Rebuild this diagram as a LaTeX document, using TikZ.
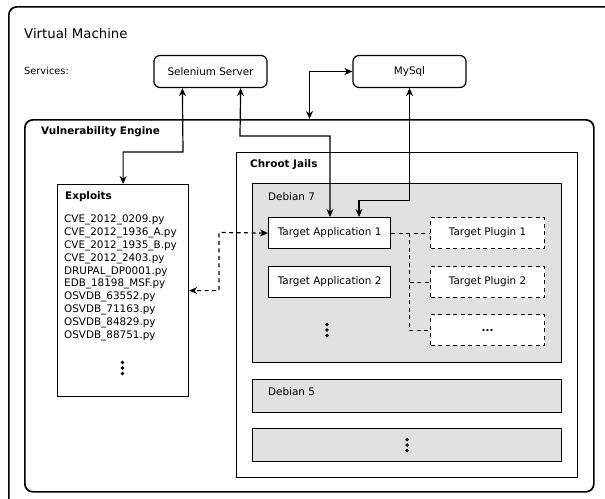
\documentclass[tikz,border=0pt]{standalone}
\usepackage{fontspec}
\setmainfont{DejaVu Sans}
\usetikzlibrary{arrows.meta,positioning}
\definecolor{jailgray}{RGB}{224,224,224}
\newcommand{\vdotsat}[1]{%
  \foreach \k in {-5.5,0,5.5} \fill ([yshift=\k pt]#1) circle (1.9pt);}

\begin{document}
\begin{tikzpicture}[
  x=1pt, y=-1pt,
  font=\fontsize{10.4}{12.9}\selectfont,
  frame/.style={draw, line width=1.7pt, rounded corners=8pt, anchor=north west, inner sep=0pt},
  svc/.style={draw, line width=1.2pt, rounded corners=6pt,
    minimum width=113pt, minimum height=32pt, inner sep=0pt},
  box/.style={draw, line width=1.2pt, anchor=north west, inner sep=0pt},
  jail/.style={box, fill=jailgray, minimum width=309pt},
  app/.style={box, fill=white, minimum width=122pt, minimum height=31pt},
  plugin/.style={app, dash pattern=on 4pt off 3.5pt, minimum width=114pt},
  lbl/.style={anchor=west, inner sep=0pt},
  head/.style={lbl, font=\fontsize{10.4}{12.9}\selectfont\bfseries},
  arr/.style={{Stealth[length=8pt,width=7pt]}-{Stealth[length=8pt,width=7pt]}, line width=1.2pt},
  darr/.style={arr, dash pattern=on 4pt off 3.5pt},
  dline/.style={line width=1.2pt, dash pattern=on 4pt off 3.5pt}
]
\useasboundingbox (0,0) rectangle (605,498);

% virtual machine and services
\node[frame, minimum width=640pt, minimum height=530pt] (vm) at (8,6) {};
\node[lbl, font=\fontsize{13.3}{16}\selectfont] (vmlbl) at (24,34) {Virtual Machine};
\node[lbl, font=\fontsize{9.8}{12}\selectfont] (services) at (24,71) {Services:};
\node[svc] (selenium) at (210.5,71.5) {Selenium Server};
\node[svc] (mysql) at (409.5,71.5) {MySql};

% vulnerability engine
\node[frame, minimum width=569pt, minimum height=372pt] (engine) at (24,119) {};
\node[head] (enginelbl) at (41,132) {Vulnerability Engine};

\node[box, minimum width=131pt, minimum height=212pt] (exploits) at (57,184) {};
\node[head] (exploitslbl) at (65,197) {Exploits};
\node[anchor=north west, inner sep=0pt, align=left] (exlist) at (64,214.5)
  {CVE\_2012\_0209.py\\ CVE\_2012\_1936\_A.py\\ CVE\_2012\_1935\_B.py\\
   CVE\_2012\_2403.py\\ DRUPAL\_DP0001.py\\ EDB\_18198\_MSF.py\\
   OSVDB\_63552.py\\ OSVDB\_71163.py\\ OSVDB\_84829.py\\ OSVDB\_88751.py};
\coordinate (exdots) at (122.5,368);

% chroot jails
\node[box, minimum width=341pt, minimum height=325pt] (chroot) at (236,152) {};
\node[head] (chrootlbl) at (250,165) {Chroot Jails};

\node[jail, minimum height=179pt] (deb7) at (252,183) {};
\node[lbl] (deb7lbl) at (268,197) {Debian 7};
\node[app] (app1) at (268,217) {Target Application 1};
\node[app] (app2) at (268,266) {Target Application 2};
\coordinate (appdots) at (327,330);
\node[plugin] (plug1) at (430,217) {Target Plugin 1};
\node[plugin] (plug2) at (430,266) {Target Plugin 2};
\node[plugin] (plug3) at (430,314) {\textbf{...}};

\node[jail, minimum height=33pt] (deb5) at (252,379) {};
\node[lbl] (deb5lbl) at (268,392) {Debian 5};
\node[jail, minimum height=33pt] (debmore) at (252,428) {};

\vdotsat{exdots}
\vdotsat{appdots}
\vdotsat{debmore.center}

% connections
\coordinate (b1) at (183,152);
\coordinate (b2) at (240,136);
\coordinate (b3) at (409.5,200.5);
\coordinate (b4) at (309.5,71.5);
\coordinate (b5) at (219,232.5);
\coordinate (j1) at (409.5,232.5);

\draw[arr] (exploits.north) |- (b1) -- ([xshift=29pt]selenium.south west);
\draw[arr] ([xshift=-27pt]selenium.south east) -- (b2) -| ([xshift=62pt]app1.north west);
\draw[arr] (mysql.south) -- (b3) -| ([xshift=91pt]app1.north west);
\draw[arr] (b4 |- engine.north) |- (mysql.west);
\draw[darr] (app1.west) -- (b5) |- (exploits.east);

\draw[dline] (app1.east) -- (plug1.west);
\draw[dline] (j1) |- (plug3.west);
\draw[dline] (j1 |- plug2.west) -- (plug2.west);

\end{tikzpicture}
\end{document}
